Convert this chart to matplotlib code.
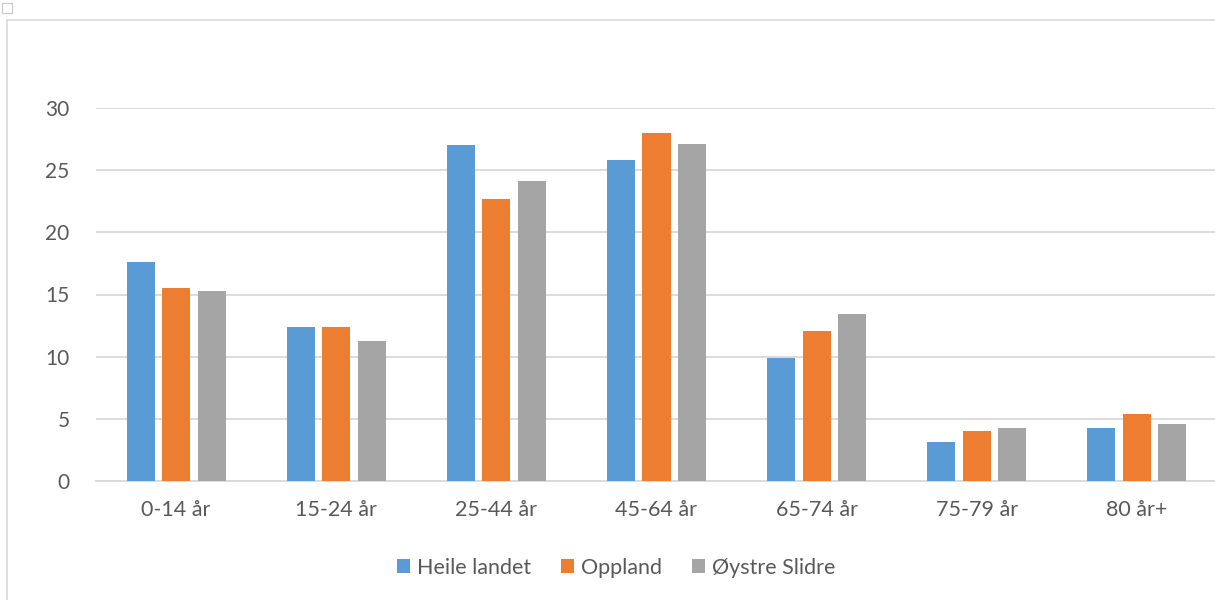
import numpy as np
import matplotlib.pyplot as plt
from matplotlib.patches import Rectangle

# Andel av folkemengda etter aldersgruppe (prosent)
groups = ['0-14 år', '15-24 år', '25-44 år', '45-64 år', '65-74 år', '75-79 år', '80 år+']
heile_landet = [17.6, 12.4, 27.0, 25.8, 9.9, 3.1, 4.3]
oppland = [15.5, 12.4, 22.7, 28.0, 12.1, 4.0, 5.4]
oystre_slidre = [15.3, 11.3, 24.1, 27.1, 13.4, 4.3, 4.6]
series_names = ['Heile landet', 'Oppland', 'Øystre Slidre']

colors = ['#5B9BD5', '#ED7D31', '#A5A5A5']
text_col = '#595959'
grid_col = '#D9D9D9'

plt.rcParams['font.family'] = ['Lato', 'DejaVu Sans']

fig = plt.figure(figsize=(12.15, 6.0), dpi=100)
W, H = 1215, 600

# chart frame, runs off the right and bottom edge
fig.patches.append(Rectangle((7 / W, -0.1), 1.2, (600 - 20) / H + 0.1,
                             transform=fig.transFigure, fill=False,
                             edgecolor=grid_col, linewidth=1.2))
fig.patches.append(Rectangle((2 / W, 1 - 13 / H), 10 / W, 10 / H,
                             transform=fig.transFigure, fill=False,
                             edgecolor='#C8C8C8', linewidth=0.8))

ax = fig.add_axes([96 / W, 1 - 481 / H, (1217 - 96) / W, (481 - 108) / H])

x = np.arange(len(groups))
bw = 0.175
step = 0.222
for i, (vals, name) in enumerate(zip([heile_landet, oppland, oystre_slidre], series_names)):
    ax.bar(x + (i - 1) * step, vals, width=bw, color=colors[i], label=name,
           zorder=3)

ax.set_xlim(-0.5, len(groups) - 0.5)
ax.set_ylim(0, 30)
ax.set_yticks(range(0, 31, 5))
ax.set_xticks(x)
ax.set_xticklabels(groups)
ax.grid(axis='y', color=grid_col, linewidth=1.3, zorder=0)
ax.set_axisbelow(True)
for side in ['top', 'right', 'left']:
    ax.spines[side].set_visible(False)
ax.spines['bottom'].set_color(grid_col)
ax.spines['bottom'].set_linewidth(1.3)
ax.tick_params(axis='both', length=0, labelcolor=text_col)
ax.tick_params(axis='y', pad=19, labelsize=15)
ax.tick_params(axis='x', pad=14, labelsize=15.5)

leg = fig.legend(loc='center', bbox_to_anchor=(616 / W, 1 - 568 / H), ncol=3,
                 frameon=False, fontsize=15.5, handlelength=0.62, handleheight=0.62,
                 handletextpad=0.3, columnspacing=1.4)
for t in leg.get_texts():
    t.set_color(text_col)

fig.savefig('out.png', dpi=100)
